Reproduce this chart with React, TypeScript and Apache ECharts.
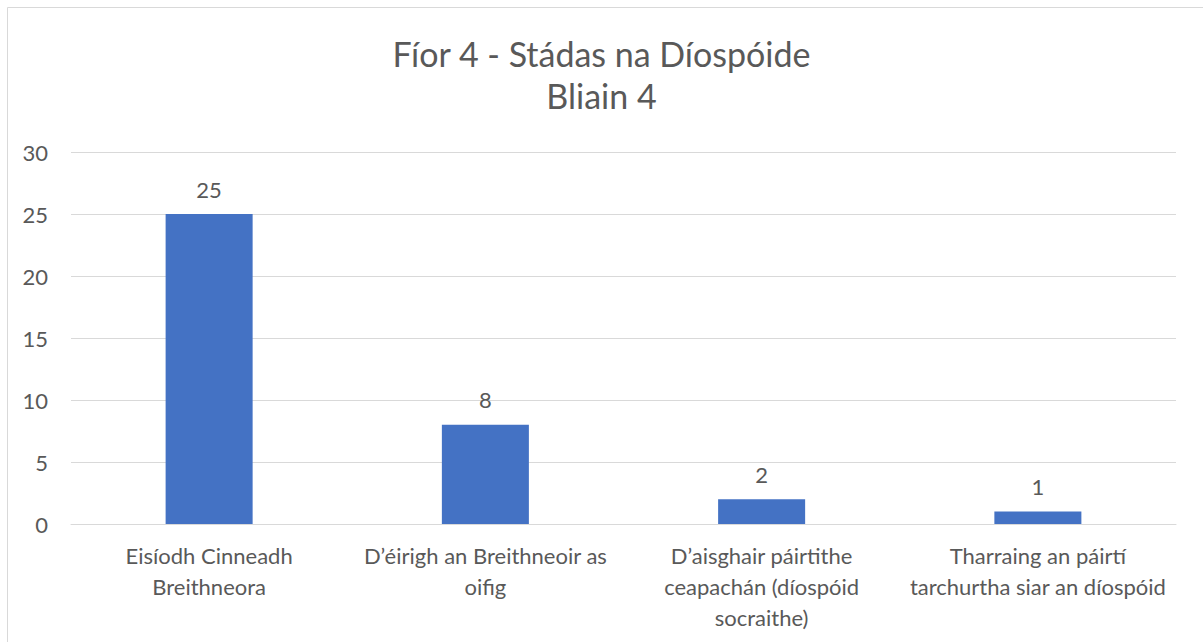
import React, { useEffect, useRef } from "react";
import * as echarts from "echarts";

const titleLines = ["Fíor 4 - Stádas na Díospóide", "Bliain 4"];
const categories = [
  "Eisíodh Cinneadh\nBreithneora",
  "D’éirigh an Breithneoir as\noifig",
  "D’aisghair páirtithe\nceapachán (díospóid\nsocraithe)",
  "Tharraing an páirtí\ntarchurtha siar an díospóid",
];
const values = [25, 8, 2, 1];
const yTicks = { min: 0, max: 30, interval: 5 };

const FONT = "Lato";
const TEXT = "#595959";

export default function App() {
  const ref = useRef<HTMLDivElement>(null);
  useEffect(() => {
    if (!ref.current) return;
    const chart = echarts.init(ref.current, undefined, { renderer: "svg" });
    chart.setOption({
      animation: false,
      backgroundColor: "#ffffff",
      title: {
        text: titleLines.join("\n"),
        left: "center",
        top: 27,
        textStyle: {
          fontFamily: FONT,
          fontSize: 34,
          fontWeight: "normal",
          color: TEXT,
          lineHeight: 42,
        },
      },
      graphic: [
        {
          type: "polyline",
          shape: { points: [[7.5, 700], [7.5, 7.5], [1210, 7.5]] },
          style: { stroke: "#d9d9d9", fill: "none", lineWidth: 1 },
          silent: true,
        },
      ],
      grid: { left: 71, right: 27, top: 152, bottom: 118, containLabel: false },
      xAxis: {
        type: "category",
        data: categories,
        axisTick: { show: false },
        axisLine: { lineStyle: { color: "#d9d9d9", width: 1 } },
        axisLabel: {
          fontFamily: FONT,
          fontSize: 22,
          color: TEXT,
          lineHeight: 31,
          margin: 16,
          interval: 0,
        },
      },
      yAxis: {
        type: "value",
        min: yTicks.min,
        max: yTicks.max,
        interval: yTicks.interval,
        axisLine: { show: false },
        axisTick: { show: false },
        splitLine: { lineStyle: { color: "#d9d9d9", width: 1 } },
        axisLabel: {
          fontFamily: FONT,
          fontSize: 22,
          color: TEXT,
          margin: 23,
        },
      },
      series: [
        {
          type: "bar",
          data: values,
          barWidth: "31.5%",
          itemStyle: { color: "#4472C4" },
          label: {
            show: true,
            position: "top",
            distance: 14,
            fontFamily: FONT,
            fontSize: 22,
            color: TEXT,
          },
        },
      ],
    });
    return () => chart.dispose();
  }, []);
  return (
    <div
      ref={ref}
      style={{ position: "fixed", left: 0, top: 0, width: 1203, height: 642 }}
    />
  );
}
